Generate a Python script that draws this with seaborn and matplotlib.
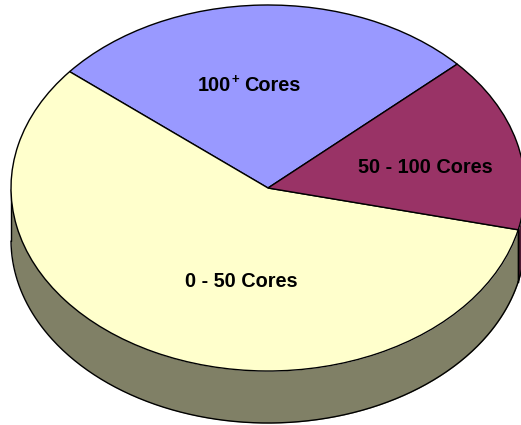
import numpy as np
import matplotlib
matplotlib.use("Agg")
import matplotlib.pyplot as plt
import seaborn as sns

categories = ["100", "0 - 50 Cores", "50 - 100 Cores"]
shares = [27.2, 57.3, 15.5]
top_colors = ["#9999FF", "#FFFFCC", "#993366"]
side_colors = ["#4D4D80", "#808066", "#4D1933"]

sns.set_theme(style="white")
plt.rcParams["font.family"] = ["Liberation Sans", "DejaVu Sans"]

W, H = 521, 425
CX, CY, RX, RY, DEPTH = 268, 188, 257, 183, 52
START = 42.6

fig = plt.figure(figsize=(W / 100, H / 100), dpi=100)
ax = fig.add_axes([0, 0, 1, 1])

# Side wall of the disc: each slice's lower rim extruded downwards
edges = START + np.cumsum([0] + shares) * 3.6
depth = DEPTH / RY
for a0, a1, side in zip(edges[:-1], edges[1:], side_colors):
    t = np.radians(np.linspace(a0, a1, 400))
    t = t[np.sin(t) <= 0]
    if t.size < 2:
        continue
    x, y = np.cos(t), np.sin(t)
    ax.fill_between(x, y - depth, y, color=side, lw=0, zorder=1)
    ax.plot(x, y - depth, color="black", lw=1.0, zorder=2)
    for i in (0, -1):
        ax.plot([x[i], x[i]], [y[i], y[i] - depth], color="black", lw=1.0, zorder=2)

# Top face
wedges, _ = ax.pie(
    shares,
    colors=top_colors,
    startangle=START,
    counterclock=True,
    radius=1,
    wedgeprops=dict(edgecolor="black", linewidth=1.0, zorder=3),
)

ax.set_aspect("auto")
ax.set_xlim(-CX / RX, (W - CX) / RX)
ax.set_ylim((CY - H) / RY, CY / RY)
ax.set_axis_off()


def px(x, y):
    return (x - CX) / RX, (CY - y) / RY


label = dict(fontsize=14.3, fontweight="bold", color="black", zorder=5,
             va="baseline", ha="center")
ax.text(*px(241, 287), categories[1], **label)
ax.text(*px(425, 173), categories[2], **label)

# "100+ Cores" with a raised plus sign
ax.text(*px(198, 91), categories[0], **{**label, "ha": "left"})
ax.text(*px(231, 83), "+", **{**label, "ha": "left", "fontsize": 9.5})
ax.text(*px(244, 91), "Cores", **{**label, "ha": "left"})

fig.savefig("out.png", dpi=100, facecolor="white")
